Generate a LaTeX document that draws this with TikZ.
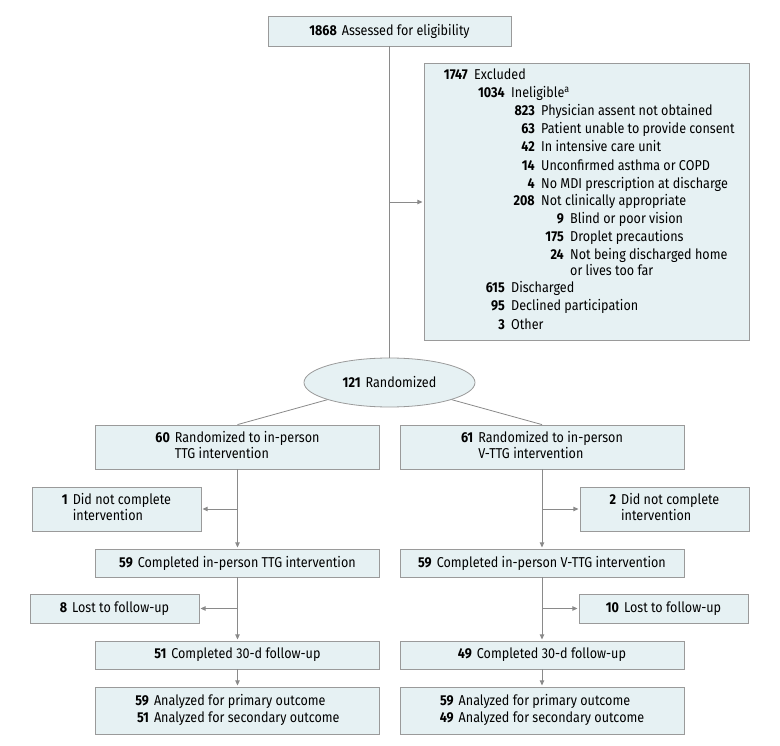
\documentclass[tikz,border=0pt]{standalone}
\usepackage{fontspec}
\setmainfont{Fira Sans}[FakeStretch=0.88]
\usetikzlibrary{shapes.geometric,arrows.meta}
\definecolor{boxfill}{HTML}{E6F1F3}
\definecolor{boxline}{HTML}{9A9A9A}
\definecolor{connclr}{HTML}{8A8A8A}
\newcommand\cnum[1]{\textbf{#1}\hspace{5pt}}
\begin{document}
\begin{tikzpicture}[x=1pt,y=-1pt,
  font=\fontsize{14.3}{16}\selectfont,
  box/.style={draw=boxline, fill=boxfill, line width=0.8pt, inner sep=0pt, align=center},
  wbox/.style={box, minimum width=284pt, minimum height=28pt},
  sbox/.style={box, minimum width=169pt, minimum height=29pt},
  conn/.style={draw=connclr, line width=0.8pt},
  arr/.style={conn, -{Triangle[length=5pt,width=4.5pt]}, shorten >=1.2pt},
  ntxt/.style={anchor=mid east, inner sep=0pt, font=\fontsize{14.3}{16}\selectfont\bfseries},
  ttxt/.style={anchor=mid west, inner sep=0pt}]
\useasboundingbox (0,0) rectangle (780,746);

% top
\node[box, minimum width=243pt, minimum height=30pt] (top) at (389.5,31) {\cnum{1868}Assessed for eligibility};

% excluded box
\node[box, minimum width=325pt, minimum height=277pt] (excl) at (586.5,201.5) {};
\newcommand\exline[5]{%
  \node[ntxt] (#1n) at (#2,#3) {#4};
  \node[ttxt] (#1t) at ({#2+6},#3) {#5};}
\exline{e1}{468}{77.3}{1747}{Excluded}
\exline{e2}{505}{95}{1034}{Ineligible\textsuperscript{a}}
\exline{e3}{535}{113.3}{823}{Physician assent not obtained}
\exline{e4}{535}{131.3}{63}{Patient unable to provide consent}
\exline{e5}{535}{149.3}{42}{In intensive care unit}
\exline{e6}{535}{167.7}{14}{Unconfirmed asthma or COPD}
\exline{e7}{535}{185.7}{4}{No MDI prescription at discharge}
\exline{e8}{535}{203.3}{208}{Not clinically appropriate}
\exline{e9}{564}{221.3}{9}{Blind or poor vision}
\exline{e10}{564}{239.3}{175}{Droplet precautions}
\exline{e11}{564}{257.3}{24}{Not being discharged home}
\node[ttxt] (e11b) at (570,272.8) {or lives too far};
\exline{e12}{505}{290}{615}{Discharged}
\exline{e13}{505}{308.3}{95}{Declined participation}
\exline{e14}{505}{326.7}{3}{Other}

% randomized
\node[box, ellipse, minimum width=171pt, minimum height=49pt] (rand) at (389.5,382.5) {\cnum{121}Randomized};

% arm boxes
\node[wbox, minimum height=44pt] (L1) at (237.5,447) {\begin{tabular}{@{}r@{\hspace{5pt}}l@{}}\textbf{60}&Randomized to in-person\\ &TTG intervention\end{tabular}};
\node[wbox, minimum height=44pt] (R1) at (542,447) {\begin{tabular}{@{}r@{\hspace{5pt}}l@{}}\textbf{61}&Randomized to in-person\\ &V-TTG intervention\end{tabular}};

\node[sbox, minimum height=44pt] (Ld1) at (116.5,509) {\begin{tabular}{@{}r@{\hspace{5pt}}l@{}}\textbf{1}&Did not complete\\ &intervention\end{tabular}};
\node[sbox, minimum height=44pt] (Rd1) at (664.5,509) {\begin{tabular}{@{}r@{\hspace{5pt}}l@{}}\textbf{2}&Did not complete\\ &intervention\end{tabular}};

\node[wbox] (L2) at (237.5,563) {\cnum{59}Completed in-person TTG intervention};
\node[wbox] (R2) at (542,563) {\cnum{59}Completed in-person V-TTG intervention};

\node[sbox] (Ll) at (114.5,608.5) {\cnum{8}Lost to follow-up};
\node[sbox] (Rl) at (663.5,608.5) {\cnum{10}Lost to follow-up};

\node[wbox] (L3) at (237.5,655) {\cnum{51}Completed 30-d follow-up};
\node[wbox] (R3) at (542,655) {\cnum{49}Completed 30-d follow-up};

\node[wbox, minimum height=47pt, font=\fontsize{14.3}{17.5}\selectfont] (L4) at (237.5,710.5) {\begin{tabular}{@{}r@{\hspace{5pt}}l@{}}\textbf{59}&Analyzed for primary outcome\\ \textbf{51}&Analyzed for secondary outcome\end{tabular}};
\node[wbox, minimum height=47pt, font=\fontsize{14.3}{17.5}\selectfont] (R4) at (542,710.5) {\begin{tabular}{@{}r@{\hspace{5pt}}l@{}}\textbf{59}&Analyzed for primary outcome\\ \textbf{49}&Analyzed for secondary outcome\end{tabular}};

% connectors
\draw[conn] (top) -- (rand);
\coordinate (j0) at (389.5,202);
\draw[arr] (j0) -- (excl.west |- j0);
\draw[conn] (rand) -- (L1.north);
\draw[conn] (rand) -- (R1.north);

\draw[arr] (L1) -- (L2);
\draw[arr] (R1) -- (R2);
\coordinate (jl1) at (237.5,509);
\coordinate (jr1) at (542,509);
\draw[arr] (jl1) -- (Ld1);
\draw[arr] (jr1) -- (Rd1);

\draw[arr] (L2) -- (L3);
\draw[arr] (R2) -- (R3);
\coordinate (jl2) at (237.5,608.5);
\coordinate (jr2) at (542,608.5);
\draw[arr] (jl2) -- (Ll);
\draw[arr] (jr2) -- (Rl);

\draw[arr] (L3) -- (L4);
\draw[arr] (R3) -- (R4);
\end{tikzpicture}
\end{document}
